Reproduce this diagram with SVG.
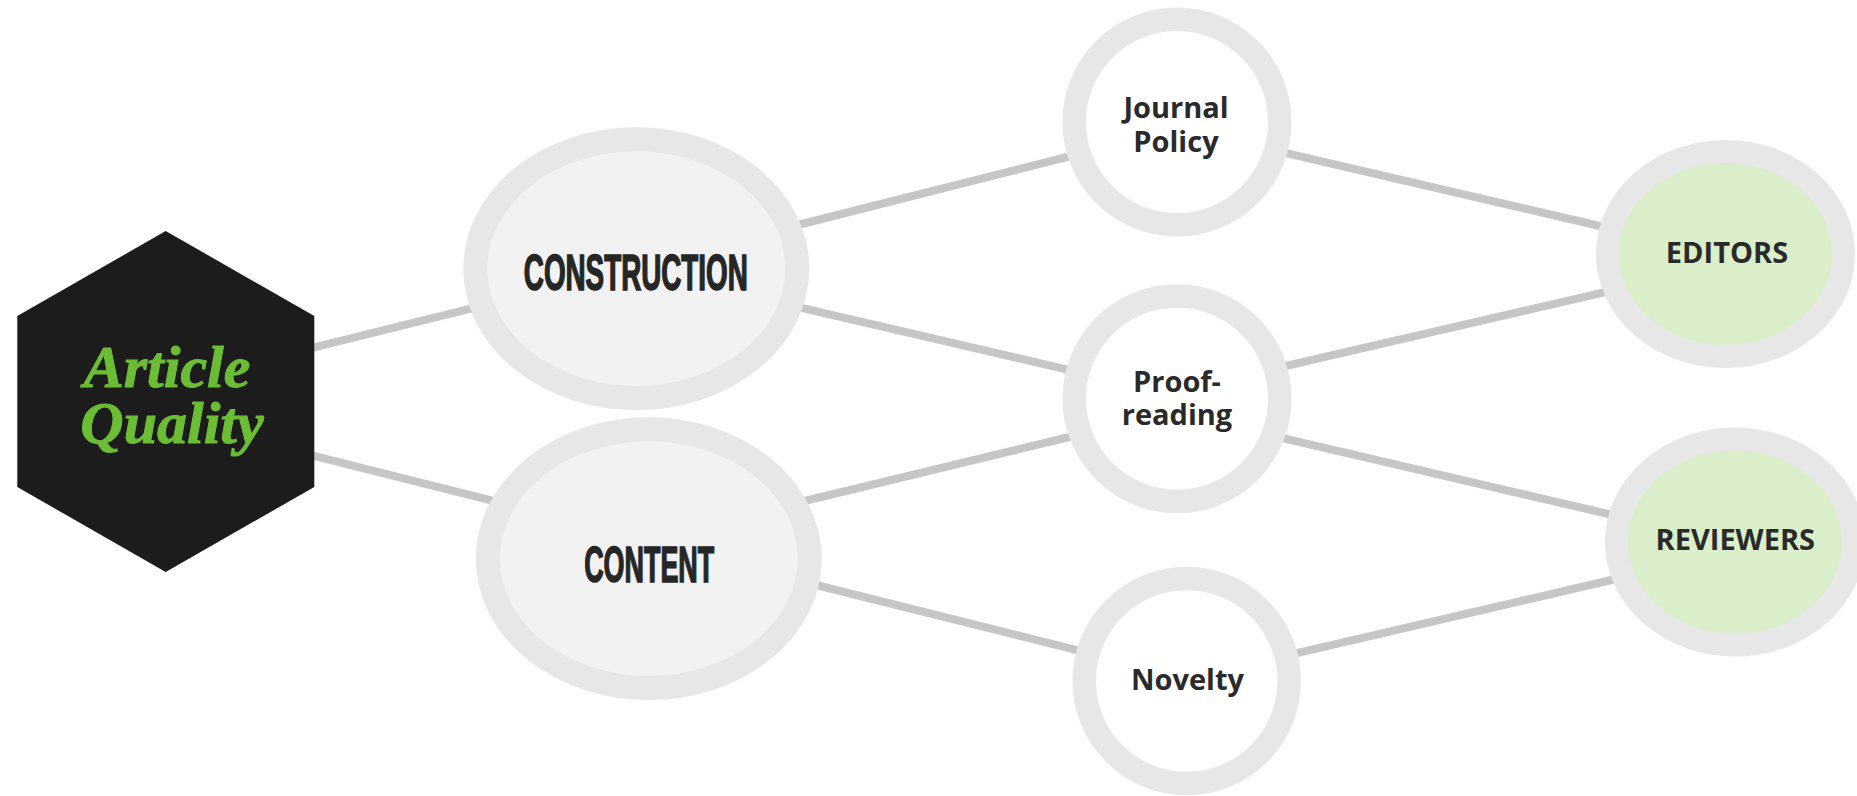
<svg xmlns="http://www.w3.org/2000/svg" width="1857" height="796" viewBox="0 0 1857 796">
<style>
.conn line{stroke:#c6c6c6;stroke-width:8;stroke-linecap:butt}
.big{fill:#f2f2f2;stroke:#e7e7e7;stroke-width:24}
.mid{fill:#ffffff;stroke:#e7e7e7;stroke-width:23.5}
.role{fill:#d9eec9;stroke:#e7e7e7;stroke-width:23}
.cond{font-family:"Liberation Sans",Arial,sans-serif;font-weight:700;font-size:50px;fill:#262626;stroke:#262626;stroke-width:1.6;text-anchor:middle}
.lbl{font-family:"Open Sans","Noto Sans",sans-serif;font-weight:700;font-size:29px;fill:#2a2a2a;text-anchor:middle}
.title{font-family:"Liberation Serif","Times New Roman",serif;font-weight:700;font-style:italic;font-size:60px;fill:#6cbd35;stroke:#6cbd35;stroke-width:1;text-anchor:middle}
</style>
<rect width="1857" height="796" fill="#ffffff"/>
<g id="connectors" class="conn">
<line x1="300" y1="350.8" x2="495" y2="302.6"/>
<line x1="300" y1="452.3" x2="505" y2="503.8"/>
<line x1="780" y1="229.5" x2="1090" y2="151.2"/>
<line x1="780" y1="302.8" x2="1090" y2="374.8"/>
<line x1="780" y1="507" x2="1090" y2="432"/>
<line x1="800" y1="581" x2="1100" y2="655.8"/>
<line x1="1270" y1="149.5" x2="1630" y2="233"/>
<line x1="1270" y1="369.6" x2="1630" y2="286.3"/>
<line x1="1270" y1="435.2" x2="1630" y2="519"/>
<line x1="1270" y1="659.4" x2="1635" y2="574.5"/>
</g>
<g id="article-quality">
<polygon points="165.7,231 314.3,316 314.3,487 165.7,572 17.3,487 17.3,316" fill="#1c1c1c"/>
<text class="title" x="167" y="387">Article</text>
<text class="title" x="172" y="443">Quality</text>
</g>
<g id="construction">
<ellipse class="big" cx="636.3" cy="268.7" rx="161" ry="129.4"/>
<text class="cond" x="635.8" y="290" textLength="224" lengthAdjust="spacingAndGlyphs">CONSTRUCTION</text>
</g>
<g id="content">
<ellipse class="big" cx="648.8" cy="558.7" rx="161" ry="129.4"/>
<text class="cond" x="649.2" y="581.7" textLength="130" lengthAdjust="spacingAndGlyphs">CONTENT</text>
</g>
<g id="journal-policy">
<circle class="mid" cx="1177" cy="122" r="102.8"/>
<text class="lbl" x="1176" y="118.3">Journal</text>
<text class="lbl" x="1176" y="151.7">Policy</text>
</g>
<g id="proofreading">
<circle class="mid" cx="1177" cy="398.7" r="102.8"/>
<text class="lbl" x="1177" y="391.7">Proof-</text>
<text class="lbl" x="1177" y="425">reading</text>
</g>
<g id="novelty">
<circle class="mid" cx="1186.7" cy="681" r="102.5"/>
<text class="lbl" x="1187.5" y="690">Novelty</text>
</g>
<g id="editors">
<ellipse class="role" cx="1725.5" cy="254" rx="118" ry="102.5"/>
<text class="lbl" x="1727" y="263.3">EDITORS</text>
</g>
<g id="reviewers">
<ellipse class="role" cx="1735" cy="542" rx="118.5" ry="103"/>
<text class="lbl" x="1735.3" y="550">REVIEWERS</text>
</g>
</svg>
